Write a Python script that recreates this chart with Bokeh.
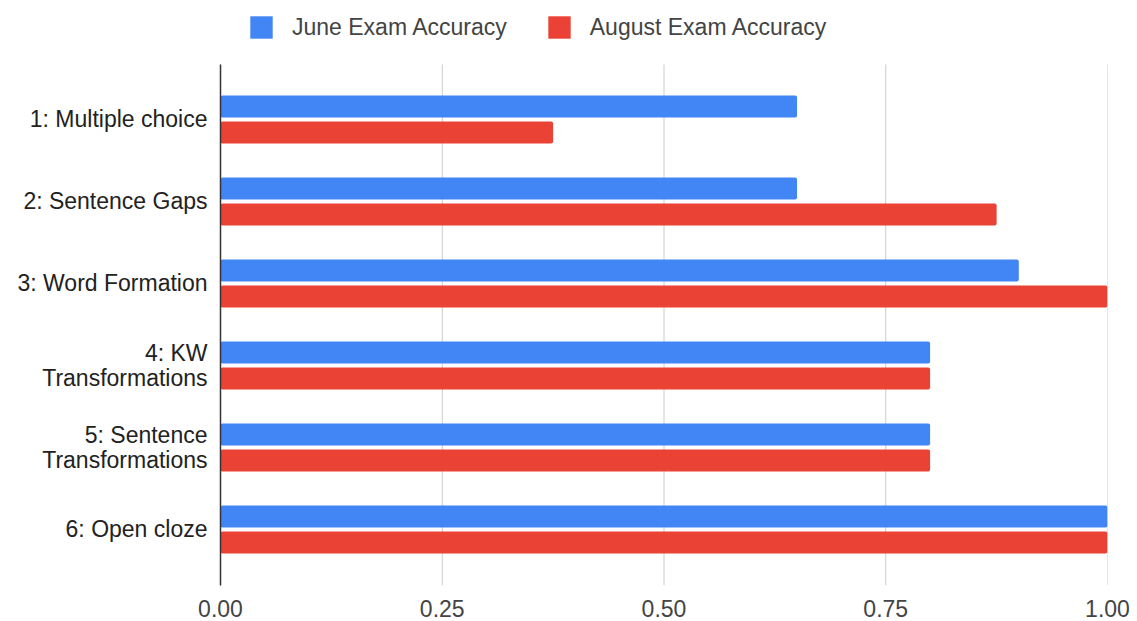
from bokeh.plotting import figure
from bokeh.models import Range1d, ColumnDataSource, FixedTicker, NumeralTickFormatter, Legend, LegendItem
from bokeh.transform import dodge
from bokeh.embed import file_html
from bokeh.resources import INLINE

categories = ["1: Multiple choice", "2: Sentence Gaps", "3: Word Formation",
              "4: KW\nTransformations", "5: Sentence\nTransformations", "6: Open cloze"]
june = [0.65, 0.65, 0.90, 0.80, 0.80, 1.00]
august = [0.375, 0.875, 1.00, 0.80, 0.80, 1.00]
x_ticks = [0, 0.25, 0.5, 0.75, 1.0]
series_names = ["June Exam Accuracy", "August Exam Accuracy"]

BLUE = "#4285F4"
RED = "#EA4335"
FONT = "Liberation Sans"

# categories placed top-to-bottom on a numeric axis
pos = [len(categories) - i for i in range(len(categories))]
src = ColumnDataSource(dict(pos=pos, cat=categories, june=june, august=august))

Y_LO, Y_AXIS_TOP, Y_HI = 0.317, 6.671, 7.451

p = figure(width=1137, height=621, output_backend="svg", toolbar_location=None,
           y_range=Range1d(Y_LO, Y_HI), x_range=Range1d(0, 1),
           min_border_left=220, min_border_right=30, min_border_top=0, min_border_bottom=36)
p.outline_line_color = None
p.background_fill_color = "white"

# vertical grid lines limited to the plotting area
p.segment(x0=x_ticks, x1=x_ticks, y0=[Y_LO] * len(x_ticks), y1=[Y_AXIS_TOP] * len(x_ticks),
          line_color="#cccccc", line_width=1)

r1 = p.hbar(y=dodge("pos", 0.1585), right="june", left=0, height=0.268,
            source=src, fill_color=BLUE, line_color=None, border_radius=2)
r2 = p.hbar(y=dodge("pos", -0.1585), right="august", left=0, height=0.268,
            source=src, fill_color=RED, line_color=None, border_radius=2)

p.xgrid.visible = False
p.ygrid.visible = False

p.xaxis.ticker = FixedTicker(ticks=x_ticks)
p.xaxis.formatter = NumeralTickFormatter(format="0.00")
p.xaxis.axis_line_color = None
p.xaxis.major_tick_line_color = None
p.xaxis.minor_tick_line_color = None
p.xaxis.major_label_text_font = FONT
p.xaxis.major_label_text_font_size = "23px"
p.xaxis.major_label_text_color = "#444444"
p.xaxis.major_label_standoff = 8

p.yaxis.ticker = FixedTicker(ticks=pos)
p.yaxis.major_label_overrides = {k: c for k, c in zip(pos, categories)}
p.yaxis.bounds = (Y_LO, Y_AXIS_TOP)
p.yaxis.axis_line_color = "#333333"
p.yaxis.axis_line_width = 1.5
p.yaxis.major_tick_line_color = None
p.yaxis.minor_tick_line_color = None
p.yaxis.major_label_text_font = FONT
p.yaxis.major_label_text_font_size = "23px"
p.yaxis.major_label_text_color = "#222222"
p.yaxis.major_label_text_line_height = 0.95
p.yaxis.major_label_standoff = 7

legend = Legend(items=[LegendItem(label=series_names[0], renderers=[r1]),
                       LegendItem(label=series_names[1], renderers=[r2])],
                orientation="horizontal", location=(27, 544),
                glyph_width=28, glyph_height=28, label_standoff=17, spacing=38,
                padding=0, margin=0, border_line_color=None, background_fill_alpha=0,
                label_text_font=FONT, label_text_font_size="23px", label_text_color="#444444")
p.add_layout(legend, "center")

open("out.html", "w").write(file_html(p, INLINE))
